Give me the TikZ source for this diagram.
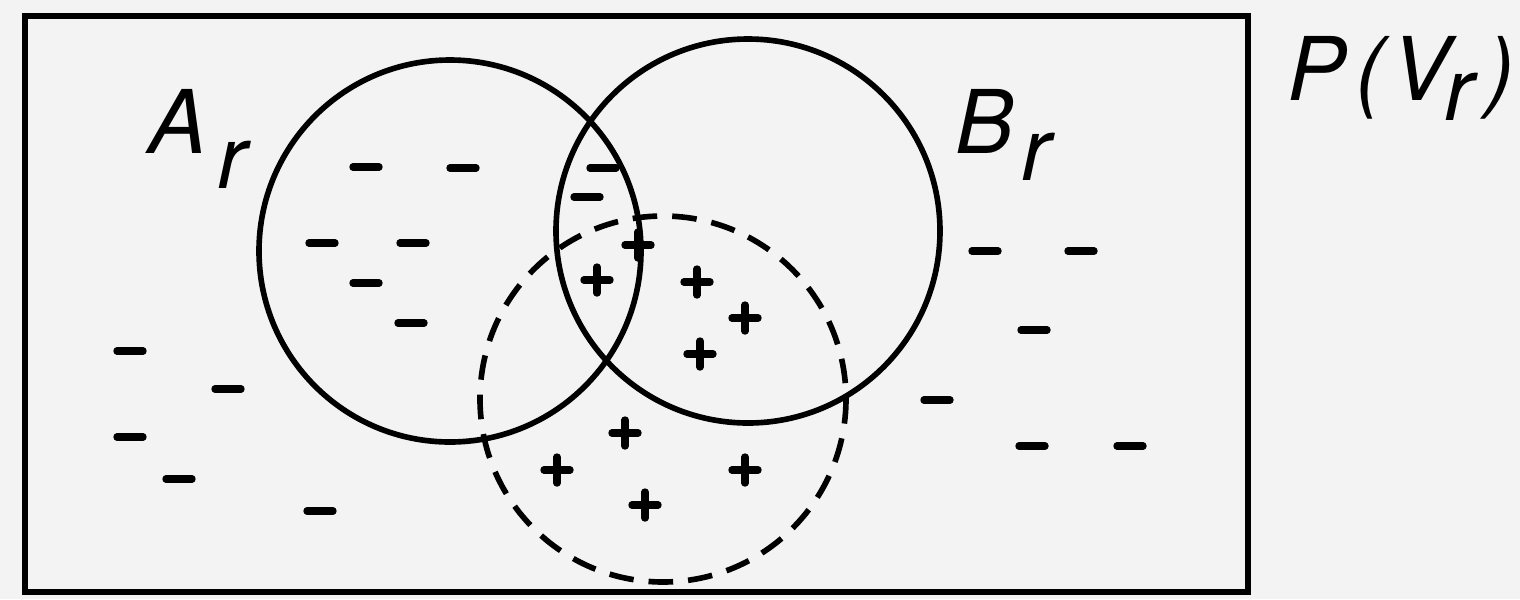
\documentclass[tikz,border=0pt]{standalone}
\usepackage{fontspec}
\setmainfont{TeX Gyre Heros}
\begin{document}
\definecolor{paper}{HTML}{F3F3F3}
\begin{tikzpicture}[x=0.01cm,y=-0.01cm,
  frame/.style={line width=1.6pt},
  ring/.style={line width=1.6pt},
  dashedring/.style={line width=1.6pt, dash pattern=on 0.246cm off 0.150cm},
  sign/.style={line width=2.1pt, line cap=round},
  neg/.pic={\draw[sign] (-13,0)--(13,0);},
  pos/.pic={\draw[sign] (-13,0)--(13,0) (0,-13)--(0,13);},
  lbl/.style={inner sep=0pt, anchor=base west, font=\fontsize{25}{30}\selectfont\itshape}]
\fill[paper] (0,0) rectangle (1520,599);
\useasboundingbox (0,0) rectangle (1520,599);
% frame
\draw[frame] (25,16) rectangle (1248,592);
% circles
\coordinate (ca) at (450,251);
\coordinate (cb) at (748,231);
\coordinate (cc) at (663,399);
\draw[ring] (ca) circle[radius=191];
\draw[ring] (cb) circle[radius=192];
\draw[dashedring] (cc) circle[radius=183];
% labels
\node[lbl] (Alab) at (148,153) {A\kern3pt\raisebox{-10pt}{r}};
\node[lbl] (Blab) at (955,153) {B\kern2pt\raisebox{-7.7pt}{r}};
\node[lbl] (Plab) at (1287,100) {P\kern2.5pt(\kern2pt V\kern-1.5pt\raisebox{-5.7pt}{r}\kern3.2pt)};
% negative samples
\foreach \p in {(366,167),(463,168),(603,168),(587,197),(322,243),(413,243),
  (366,283),(411,323),(130,351),(228,389),(130,437),(179,479),(320,511),
  (985,251),(1081,251),(1034,330),(937,400),(1032,446),(1130,446)}
  \pic at \p {neg};
% positive samples
\foreach \p in {(638,245),(597,280),(697,282),(745,318),(700,354),(625,433),
  (557,470),(745,470),(645,505)}
  \pic at \p {pos};
\end{tikzpicture}
\end{document}
